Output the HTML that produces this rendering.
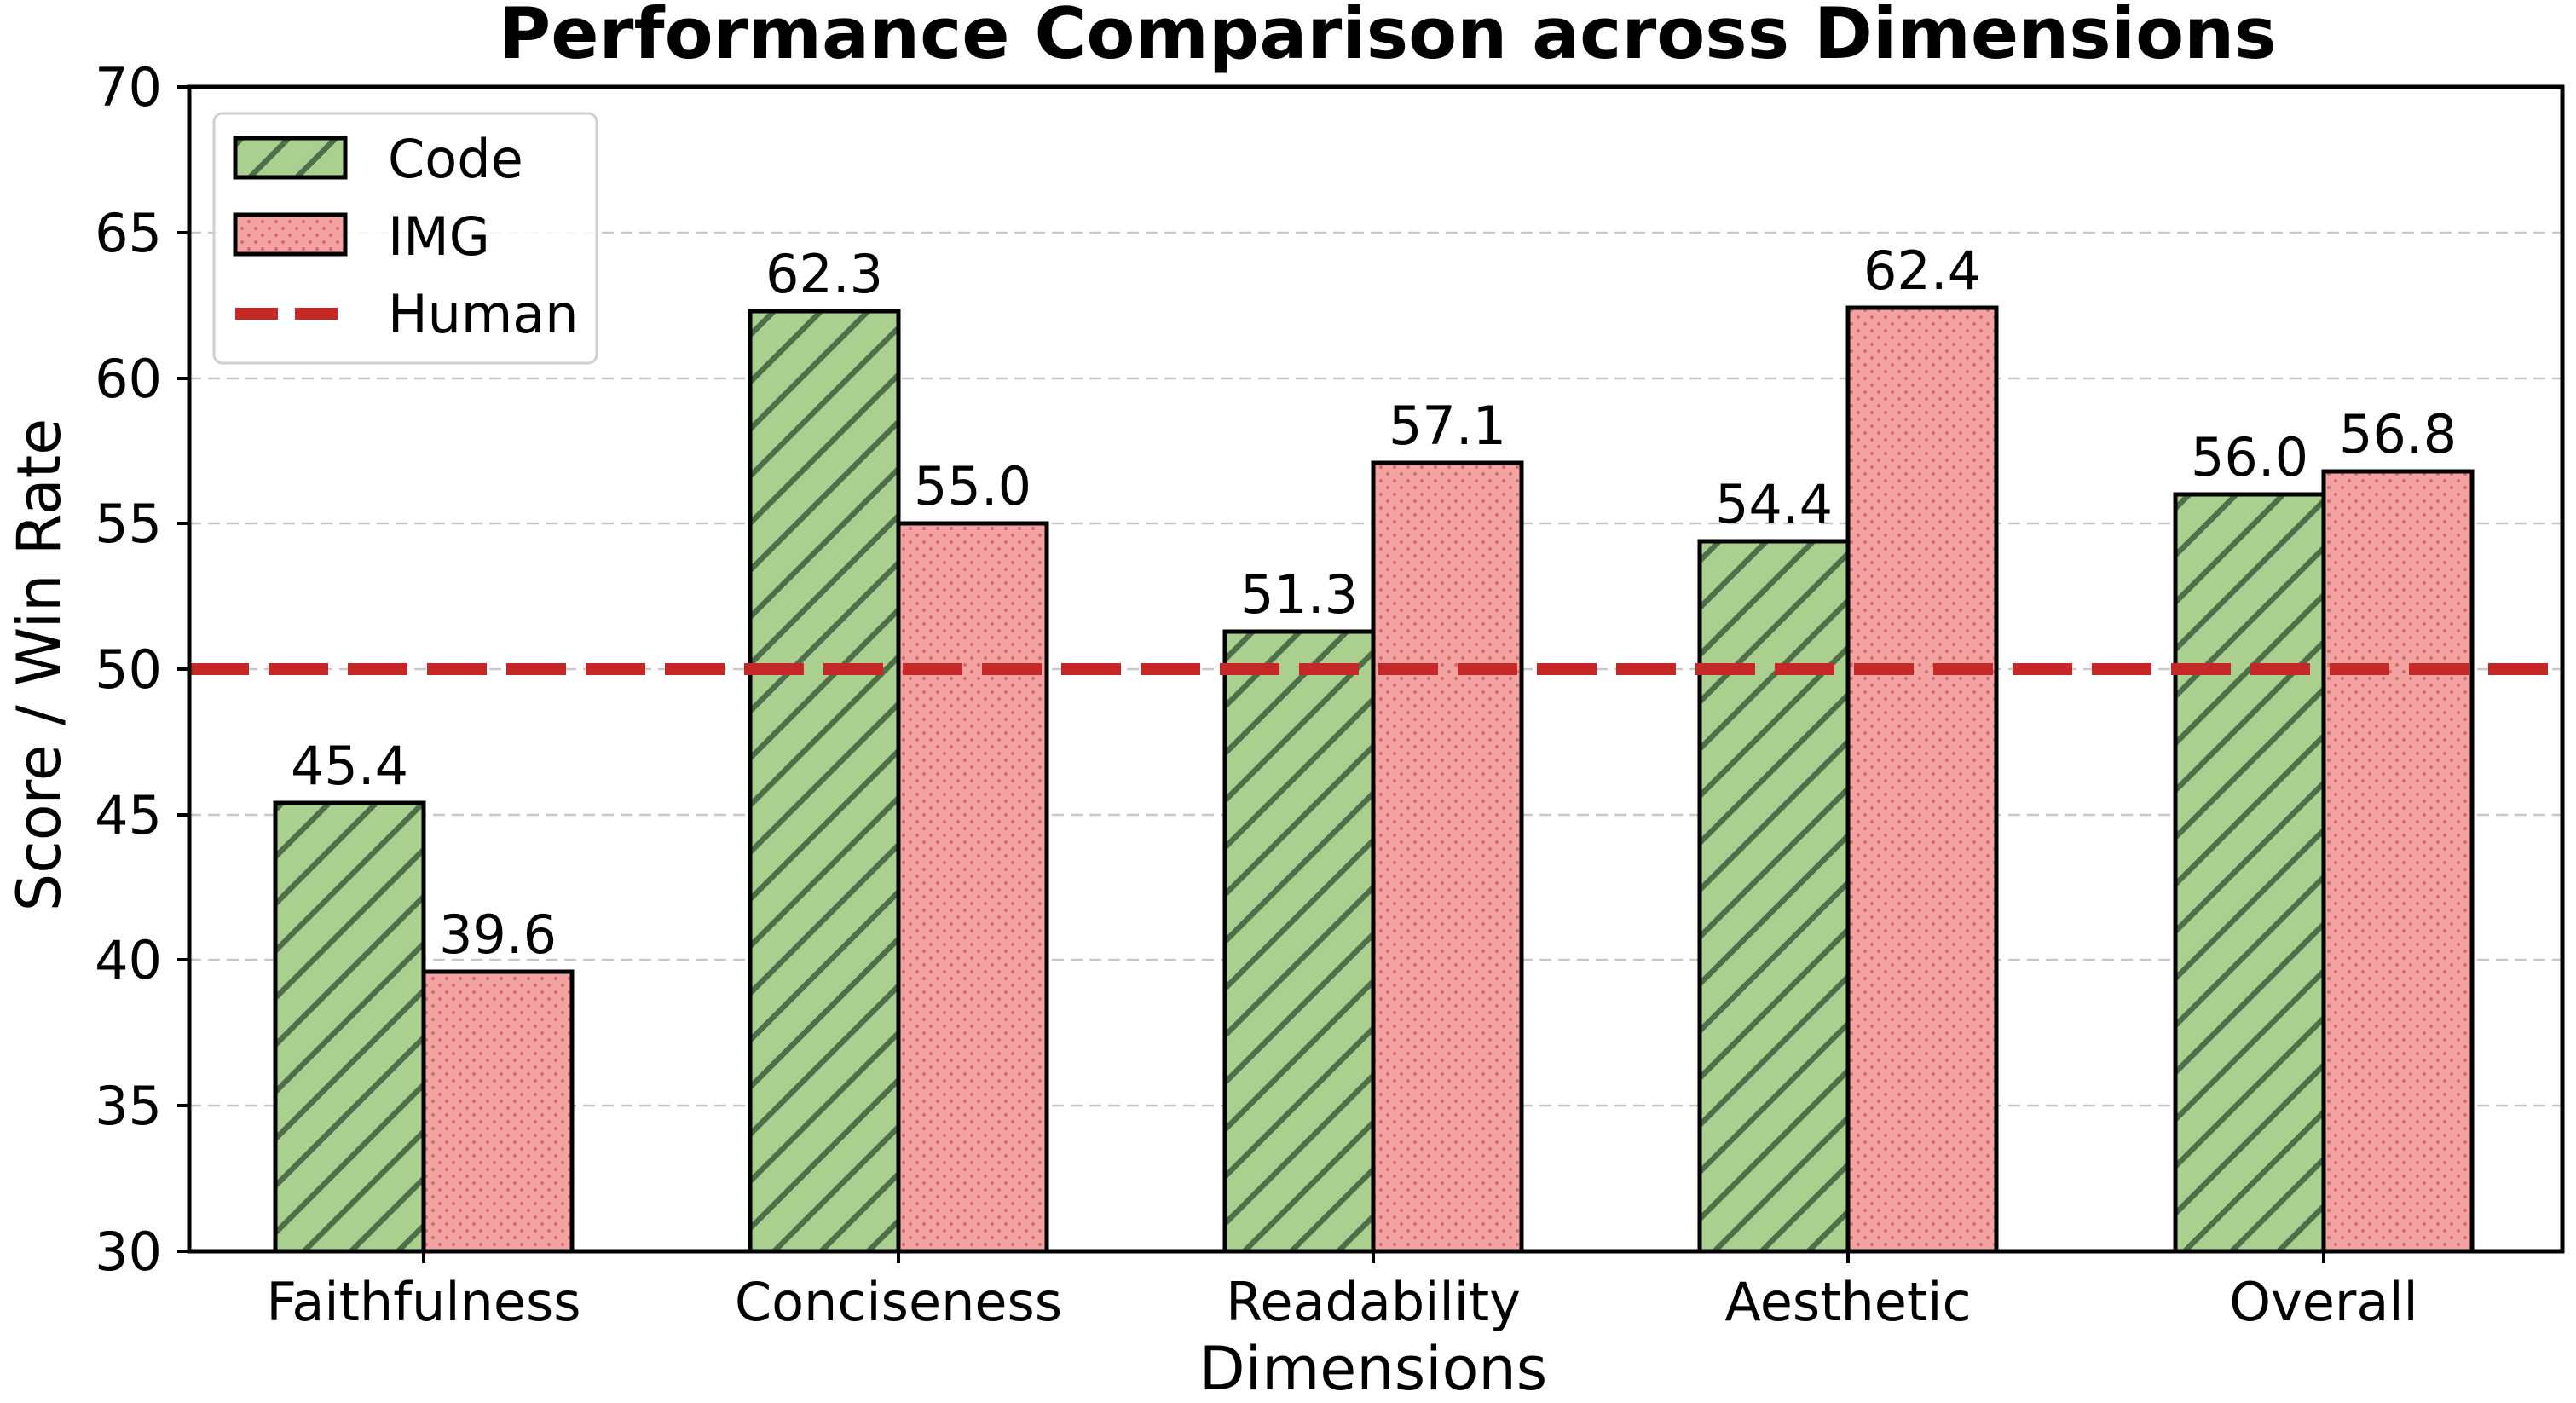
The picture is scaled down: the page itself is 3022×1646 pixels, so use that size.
<!DOCTYPE html>
<html><head><meta charset="utf-8"><style>html,body{margin:0;padding:0;background:#fff}svg{display:block}</style></head>
<body>
<svg width="3022" height="1646" viewBox="0 0 3022 1646" xmlns="http://www.w3.org/2000/svg" font-family="'DejaVu Sans','Liberation Sans',sans-serif">
<defs>
<pattern id="hatch" patternUnits="userSpaceOnUse" width="39" height="10" patternTransform="rotate(45)">
<rect width="39" height="10" fill="#a9d08e"/>
<line x1="3" y1="0" x2="3" y2="10" stroke="#4f6f4a" stroke-width="7"/>
</pattern>
<pattern id="dots" patternUnits="userSpaceOnUse" width="16" height="16">
<rect width="16" height="16" fill="#f4a3a3"/>
<circle cx="4" cy="4" r="2" fill="#d46a6a"/>
<circle cx="12" cy="12" r="2" fill="#d46a6a"/>
</pattern>
</defs>
<rect width="3022" height="1646" fill="#fff"/>
<text x="1628" y="68" font-size="83" font-weight="bold" text-anchor="middle">Performance Comparison across Dimensions</text>
<g stroke="#c8c8c8" stroke-width="2.5" stroke-dasharray="14,8">
<line x1="222" x2="3006" y1="1297" y2="1297"/>
<line x1="222" x2="3006" y1="1126" y2="1126"/>
<line x1="222" x2="3006" y1="956" y2="956"/>
<line x1="222" x2="3006" y1="785" y2="785"/>
<line x1="222" x2="3006" y1="614" y2="614"/>
<line x1="222" x2="3006" y1="444" y2="444"/>
<line x1="222" x2="3006" y1="273" y2="273"/>
</g>
<g stroke="#000" stroke-width="5">
<rect x="323" y="942" width="174" height="526" fill="url(#hatch)"/>
<rect x="497" y="1140" width="174" height="328" fill="url(#dots)"/>
<rect x="880" y="365" width="174" height="1103" fill="url(#hatch)"/>
<rect x="1054" y="614" width="174" height="854" fill="url(#dots)"/>
<rect x="1437" y="741" width="174" height="727" fill="url(#hatch)"/>
<rect x="1611" y="543" width="174" height="925" fill="url(#dots)"/>
<rect x="1994" y="635" width="174" height="833" fill="url(#hatch)"/>
<rect x="2168" y="361" width="174" height="1107" fill="url(#dots)"/>
<rect x="2552" y="580" width="174" height="888" fill="url(#hatch)"/>
<rect x="2726" y="553" width="174" height="915" fill="url(#dots)"/>
</g>
<line x1="222" x2="3006" y1="785" y2="785" stroke="#c62828" stroke-width="14" stroke-dasharray="70,23"/>
<g font-size="62" text-anchor="middle">
<text x="410" y="920">45.4</text>
<text x="584" y="1118">39.6</text>
<text x="967" y="343">62.3</text>
<text x="1141" y="592">55.0</text>
<text x="1524" y="719">51.3</text>
<text x="1698" y="521">57.1</text>
<text x="2081" y="613">54.4</text>
<text x="2255" y="339">62.4</text>
<text x="2639" y="558">56.0</text>
<text x="2813" y="531">56.8</text>
</g>
<rect x="222" y="102" width="2784" height="1366" fill="none" stroke="#000" stroke-width="5"/>
<g stroke="#000" stroke-width="4">
<line x1="208" x2="222" y1="1468" y2="1468"/><line x1="208" x2="222" y1="1297" y2="1297"/>
<line x1="208" x2="222" y1="1126" y2="1126"/><line x1="208" x2="222" y1="956" y2="956"/>
<line x1="208" x2="222" y1="785" y2="785"/><line x1="208" x2="222" y1="614" y2="614"/>
<line x1="208" x2="222" y1="444" y2="444"/><line x1="208" x2="222" y1="273" y2="273"/>
<line x1="208" x2="222" y1="102" y2="102"/>
<line x1="497" x2="497" y1="1468" y2="1482"/><line x1="1054" x2="1054" y1="1468" y2="1482"/>
<line x1="1611" x2="1611" y1="1468" y2="1482"/><line x1="2168" x2="2168" y1="1468" y2="1482"/>
<line x1="2726" x2="2726" y1="1468" y2="1482"/>
</g>
<g font-size="62" text-anchor="end">
<text x="190" y="1490">30</text><text x="190" y="1319">35</text><text x="190" y="1148">40</text>
<text x="190" y="978">45</text><text x="190" y="807">50</text><text x="190" y="636">55</text>
<text x="190" y="466">60</text><text x="190" y="295">65</text><text x="190" y="124">70</text>
</g>
<g font-size="62" text-anchor="middle">
<text x="497" y="1549">Faithfulness</text>
<text x="1054" y="1549">Conciseness</text>
<text x="1611" y="1549">Readability</text>
<text x="2168" y="1549">Aesthetic</text>
<text x="2726" y="1549">Overall</text>
<text x="1611" y="1630" font-size="70">Dimensions</text>
</g>
<text transform="translate(70,780) rotate(-90)" font-size="70" text-anchor="middle">Score / Win Rate</text>
<rect x="251" y="133" width="449" height="293" rx="10" fill="#fff" fill-opacity="0.85" stroke="#d0d0d0" stroke-width="3"/>
<rect x="276" y="162" width="129" height="46" fill="url(#hatch)" stroke="#000" stroke-width="5"/>
<rect x="276" y="252" width="129" height="46" fill="url(#dots)" stroke="#000" stroke-width="5"/>
<line x1="276" x2="405" y1="368" y2="368" stroke="#c62828" stroke-width="14" stroke-dasharray="50,20"/>
<g font-size="62">
<text x="455" y="208">Code</text>
<text x="455" y="299">IMG</text>
<text x="455" y="390">Human</text>
</g>
</svg>
</body></html>
